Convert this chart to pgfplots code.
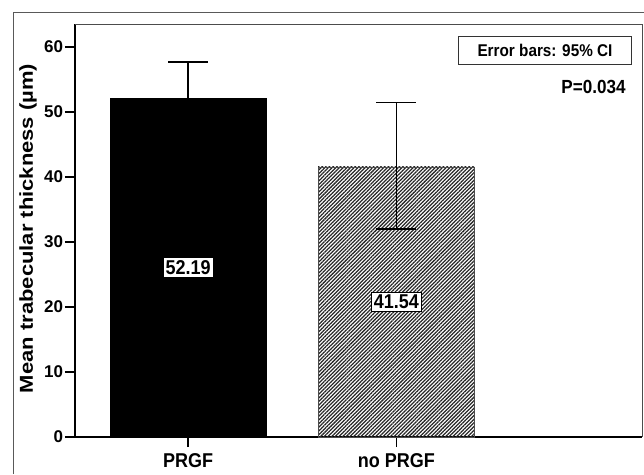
\documentclass[border=0pt]{standalone}
\usepackage{fontspec}
\setmainfont{Liberation Sans}
\usepackage{graphicx}
\usepackage{pgfplots}
\pgfplotsset{compat=1.18}
\usetikzlibrary{patterns.meta}

% the chart's lettering is a little narrow: squeeze it sideways
\newcommand\sq[1]{\scalebox{0.9}[1]{#1}}

\begin{document}
\begin{tikzpicture}[x=1pt,y=1pt]
  % page is 644 x 474, image y runs downward
  \useasboundingbox (0,0) rectangle (644,474);
  % outer frame (cut at right and bottom)
  \draw[black!65, line width=0.9pt] (13,0) -- (13,462) -- (644,462);

  \begin{axis}[
      at={(75pt,37pt)}, anchor=south west,
      scale only axis,
      width=567pt, height=413pt,
      xmin=-0.543, xmax=2.18,
      ymin=0, ymax=63.54,
      axis x line*=bottom, axis y line*=left,
      axis line style={line width=2.6pt, -},
      ytick={0,10,...,60},
      xtick={0,1},
      xticklabels={\sq{PRGF}, \sq{no PRGF}},
      tick align=outside,
      major tick length=10pt,
      tick style={line width=1.2pt, black},
      /pgf/number format/assume math mode=true,
      yticklabel style={font=\fontsize{17}{17}\selectfont\bfseries, xshift=1.5pt},
      xticklabel style={font=\fontsize{20}{20}\selectfont\bfseries, yshift=-3pt},
      ylabel={\scalebox{1}[0.85]{Mean trabecular thickness (µm)}},
      ylabel style={font=\fontsize{22}{22}\selectfont\bfseries,
        at={(axis description cs:-0.0829,0.505)}, anchor=center},
      clip=false,
    ]
    % black bar
    \addplot[ybar, bar width=0.75, fill=black, draw=black,
      error bars/.cd, y dir=both, y explicit,
      error mark=-, error bar style={line width=1.3pt, black},
      error mark options={rotate=90, mark size=20pt, line width=1.3pt, black}]
      coordinates {(0,52.19) +- (0,5.5)};
    % hatched bar
    \addplot[ybar, bar width=0.75, draw=black!70, line width=0.9pt,
      pattern={Lines[angle=45, distance=2.6pt, line width=1.25pt]},
      pattern color=black!85,
      error bars/.cd, y dir=both, y explicit,
      error mark=-, error bar style={line width=1.3pt, black},
      error mark options={rotate=90, mark size=20pt, line width=1.3pt, black}]
      coordinates {(1,41.54) += (0,9.96) -= (0,9.54)};

    % thin top and right frame
    \draw[black!70, line width=0.9pt] (rel axis cs:0,1) -- (rel axis cs:1,1) -- (rel axis cs:1,0);

    % value labels
    \node[draw=black, fill=white, line width=0.8pt, inner sep=2.5pt,
      font=\fontsize{20}{20}\selectfont\bfseries] at (axis cs:0,26.1) {\sq{52.19}};
    \node[draw=black, fill=white, line width=0.8pt, inner sep=2.5pt,
      font=\fontsize{20}{20}\selectfont\bfseries] at (axis cs:1,20.77) {\sq{41.54}};

    % note on the error bars and p value
    \node[draw=black!80, fill=white, line width=0.9pt, minimum width=173pt, minimum height=28pt,
      font=\fontsize{17}{17}\selectfont\bfseries] at (axis cs:1.714,59.4) {\sq{Error bars: 95\% CI}};
    \node[anchor=east, font=\fontsize{19}{19}\selectfont\bfseries] at (axis cs:2.118,53.9) {\sq{P=0.034}};
  \end{axis}
\end{tikzpicture}
\end{document}
